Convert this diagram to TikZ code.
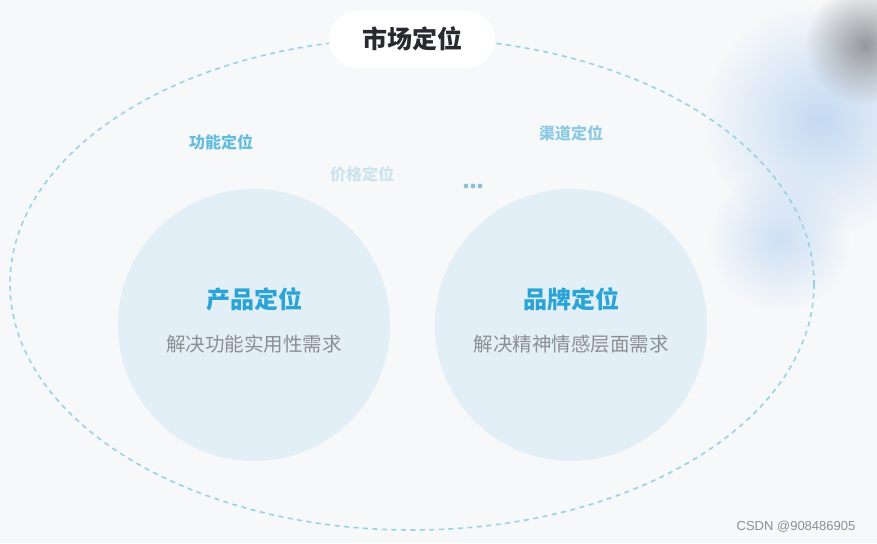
\documentclass[tikz,border=0pt]{standalone}
\usepackage{fontspec}
\newfontfamily\cjk{Noto Sans CJK SC}
\setmainfont{Liberation Sans}
\usetikzlibrary{positioning, fadings}

\tikzfading[name=softblob, inner color=transparent!0, outer color=transparent!100]

\definecolor{bgcol}{RGB}{246,248,250}
\definecolor{ringcol}{RGB}{150,212,228}
\definecolor{circcol}{RGB}{226,239,247}
\definecolor{headblue}{RGB}{42,164,214}
\definecolor{subgray}{RGB}{140,142,146}
\definecolor{titlecol}{RGB}{40,42,48}
\definecolor{funccol}{RGB}{100,188,222}
\definecolor{pricecol}{RGB}{205,228,238}
\definecolor{chancol}{RGB}{140,202,228}
\definecolor{dotcol}{RGB}{140,190,215}
\definecolor{blobblue}{RGB}{196,218,242}
\definecolor{blobgray}{RGB}{150,152,156}

\begin{document}
\begin{tikzpicture}[
    x=1pt, y=-1pt,
    font=\cjk,
    pill/.style={draw=none, fill=white, rounded corners=28pt,
        minimum width=166pt, minimum height=57pt, font=\cjk\bfseries\fontsize{25}{25}\selectfont, text=titlecol},
    bubble/.style={circle, fill=circcol, minimum size=272pt, inner sep=0pt},
    heading/.style={font=\cjk\bfseries\fontsize{24}{24}\selectfont, text=headblue},
    subline/.style={font=\cjk\fontsize{19.5}{19.5}\selectfont, text=subgray},
    tag/.style={font=\cjk\bfseries\fontsize{16}{16}\selectfont},
    blob/.style={path fading=softblob},
    ]

    % background with soft blobs
    \fill[bgcol] (0,0) rectangle (877,543);
    \useasboundingbox (0,0) rectangle (877,543);
    \fill[blobblue, blob] (820,120) circle (115);
    \fill[blobblue, blob, opacity=0.8] (780,240) circle (70);
    \fill[blobgray, blob] (865,45) circle (60);

    % outer dashed ring
    \draw[ringcol, dashed, dash pattern=on 5pt off 4.5pt, line width=1.6pt]
        (412,284) ellipse (402 and 246);

    % title
    \node[pill] (market) at (412,39) {市场定位};

    % ==========================================
    % Two main circles
    % ==========================================
    \node[bubble] (product) at (254,325) {};
    \node[bubble] (brand) at (571,325) {};

    \node[heading] (product-head) at (254,299) {产品定位};
    \node[subline, below=17pt of product-head] (product-sub) {解决功能实用性需求};
    \node[heading] (brand-head) at (571,299) {品牌定位};
    \node[subline, below=17pt of brand-head] (brand-sub) {解决精神情感层面需求};

    % ==========================================
    % Floating tags
    % ==========================================
    \node[tag, text=funccol] (func) at (221,142) {功能定位};
    \node[tag, text=pricecol] (price) at (362,174) {价格定位};
    \node[tag, text=chancol] (channel) at (571,133) {渠道定位};
    \foreach \i in {-7,0,7}
        \fill[dotcol] (473+\i,186) circle (2.4);

    % watermark
    \node[font=\fontsize{13}{13}\selectfont, text=subgray] (mark) at (796,527) {CSDN @908486905};

\end{tikzpicture}
\end{document}
